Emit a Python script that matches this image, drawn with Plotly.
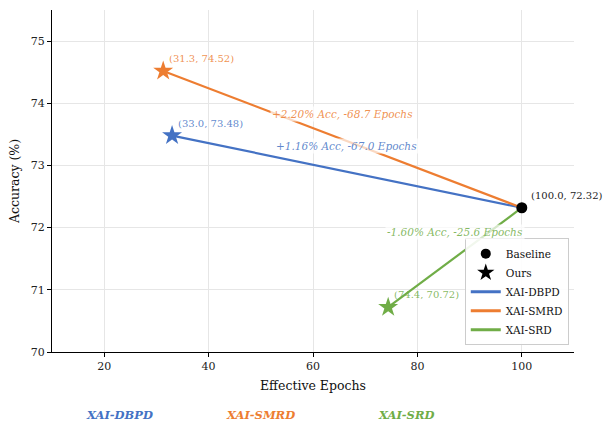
import plotly.graph_objects as go

methods = ["XAI-DBPD", "XAI-SMRD", "XAI-SRD"]
ours_epochs = [33.0, 31.3, 74.4]
ours_acc = [73.48, 74.52, 70.72]
base_epochs = 100.0
base_acc = 72.32
colors = ["#4472C4", "#ED7D31", "#70AD47"]
label_colors = ["rgba(68,114,196,0.85)", "rgba(237,125,49,0.85)", "rgba(112,173,71,0.85)"]
delta_text = ["+1.16% Acc, -67.0 Epochs", "+2.20% Acc, -68.7 Epochs", "-1.60% Acc, -25.6 Epochs"]
x_ticks = [20, 40, 60, 80, 100]
y_ticks = [70, 71, 72, 73, 74, 75]

FONT = "DejaVu Serif"
fig = go.Figure()

for i, m in enumerate(methods):
    fig.add_trace(go.Scatter(
        x=[ours_epochs[i], base_epochs], y=[ours_acc[i], base_acc],
        mode="lines", line=dict(color=colors[i], width=2.2),
        showlegend=False, hoverinfo="skip"))

for i, m in enumerate(methods):
    fig.add_trace(go.Scatter(
        x=[ours_epochs[i]], y=[ours_acc[i]], mode="markers",
        marker=dict(symbol="star", size=15, color=colors[i], line=dict(width=0)),
        showlegend=False))

fig.add_trace(go.Scatter(
    x=[base_epochs], y=[base_acc], mode="markers",
    marker=dict(symbol="circle", size=11, color="black"), showlegend=False))

# legend entries
fig.add_trace(go.Scatter(x=[None], y=[None], mode="markers", name="Baseline",
                         marker=dict(symbol="circle", size=10, color="black")))
fig.add_trace(go.Scatter(x=[None], y=[None], mode="markers", name="Ours",
                         marker=dict(symbol="star", size=13, color="black")))
for i, m in enumerate(methods):
    fig.add_trace(go.Scatter(x=[None], y=[None], mode="lines", name=m,
                             line=dict(color=colors[i], width=3)))

annotations = []
for i, m in enumerate(methods):
    annotations.append(dict(
        x=ours_epochs[i], y=ours_acc[i], xref="x", yref="y",
        text=f"({ours_epochs[i]:.1f}, {ours_acc[i]:.2f})", showarrow=False,
        xanchor="left", yanchor="bottom", xshift=4, yshift=5,
        font=dict(family=FONT, size=10, color=label_colors[i])))
    annotations.append(dict(
        x=(ours_epochs[i] + base_epochs) / 2, y=(ours_acc[i] + base_acc) / 2 + 0.41,
        xref="x", yref="y", text=f"<i>{delta_text[i]}</i>", showarrow=False,
        xanchor="center", yanchor="middle", bgcolor="rgba(255,255,255,0.7)",
        borderpad=1, font=dict(family=FONT, size=10.5, color=label_colors[i])))
annotations.append(dict(
    x=base_epochs, y=base_acc, xref="x", yref="y",
    text=f"({base_epochs:.1f}, {base_acc:.2f})", showarrow=False,
    xanchor="left", yanchor="bottom", xshift=7, yshift=5,
    font=dict(family=FONT, size=10, color="#222")))

bottom_x = [0.13, 0.40, 0.679]
for i, m in enumerate(methods):
    annotations.append(dict(
        x=bottom_x[i], y=-0.184, xref="paper", yref="paper",
        text=f"<b><i>{m}</i></b>", showarrow=False, xanchor="center", yanchor="middle",
        font=dict(family=FONT, size=11.5, color=colors[i])))

fig.update_layout(
    width=603, height=422,
    margin=dict(l=52, r=29, t=10, b=70),
    plot_bgcolor="white", paper_bgcolor="white",
    font=dict(family=FONT, size=11, color="#222"),
    annotations=annotations,
    legend=dict(x=0.99, y=0.02, xanchor="right", yanchor="bottom",
                bordercolor="#cccccc", borderwidth=1, bgcolor="rgba(255,255,255,0.9)",
                font=dict(family=FONT, size=10.5, color="#111"),
                itemwidth=30, tracegroupgap=0),
    xaxis=dict(range=[10, 110], tickvals=x_ticks, showgrid=True, gridcolor="#e6e6e6",
               gridwidth=1, zeroline=False, showline=True, linecolor="black", linewidth=1.2,
               ticks="outside", ticklen=4, tickcolor="black",
               title=dict(text="Effective Epochs", font=dict(family=FONT, size=12.5, color="#111"), standoff=8)),
    yaxis=dict(range=[70, 75.5], tickvals=y_ticks, showgrid=True, gridcolor="#e6e6e6",
               gridwidth=1, zeroline=False, showline=True, linecolor="black", linewidth=1.2,
               ticks="outside", ticklen=4, tickcolor="black",
               title=dict(text="Accuracy (%)", font=dict(family=FONT, size=12.5, color="#111"), standoff=8)),
)

fig.write_html("out.html")
